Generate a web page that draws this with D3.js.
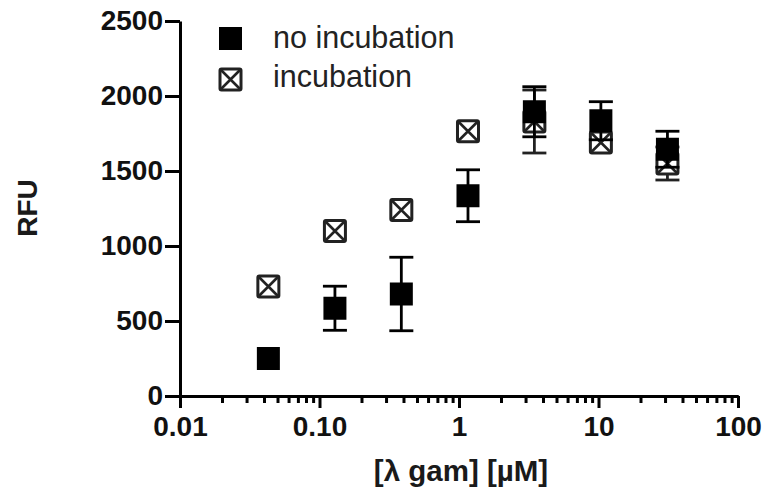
<!DOCTYPE html>
<html>
<head>
<meta charset="utf-8">
<script src="https://cdn.jsdelivr.net/npm/d3@7"></script>
<style>
  body { margin: 0; background: #fff; }
  svg { display: block; font-family: "Liberation Sans", Arial, Helvetica, sans-serif; }
</style>
</head>
<body>
<svg id="chart"></svg>
<script>
const width = 764;
const height = 489;

// concentrations [uM]
const conc = [0.043, 0.129, 0.386, 1.16, 3.47, 10.4, 31.2];
// RFU, no incubation
const noIncMean = [250, 585, 680, 1335, 1895, 1835, 1645];
const noIncErr = [0, 147, 245, 173, 167, 127, 120];
// RFU, incubation
const incMean = [730, 1100, 1240, 1765, 1830, 1690, 1550];
const incErr = [0, 0, 0, 0, 210, 0, 110];

const yTicks = [0, 500, 1000, 1500, 2000, 2500];
const xTicks = [0.01, 0.1, 1, 10, 100];
const xTickLabels = ["0.01", "0.10", "1", "10", "100"];
const seriesNames = ["no incubation", "incubation"];

const svg = d3.select("#chart").attr("width", width).attr("height", height);

const x = d3.scaleLog().domain([0.01, 100]).range([180, 738]);
const y = d3.scaleLinear().domain([0, 2500]).range([396, 21]);

// minor ticks 2..9 of every decade
let minor = [];
for (let d = 0.01; d < 100; d *= 10) {
    for (let k = 2; k <= 9; k++) minor.push(+(d * k).toPrecision(3));
}

// y axis
const gy = svg.append("g")
    .attr("transform", "translate(180,0)")
    .call(d3.axisLeft(y).tickValues(yTicks).tickSize(15).tickSizeOuter(0).tickPadding(2)
        .tickFormat(d3.format("d")));

// x axis minor
const gxm = svg.append("g")
    .attr("transform", "translate(0,396)")
    .call(d3.axisBottom(x).tickValues(minor).tickSize(7).tickSizeOuter(0).tickFormat(""));

// x axis major
const gx = svg.append("g")
    .attr("transform", "translate(0,396)")
    .call(d3.axisBottom(x).tickValues(xTicks).tickSize(12).tickSizeOuter(0).tickPadding(8)
        .tickFormat((d, i) => xTickLabels[i]));

[gy, gx, gxm].forEach(g => {
    g.selectAll("path.domain").attr("stroke", "#000").attr("stroke-width", 3);
    g.selectAll(".tick line").attr("stroke", "#000").attr("stroke-width", 3);
    g.selectAll(".tick text")
        .attr("fill", "#111")
        .style("font-size", "28px")
        .style("font-weight", "bold");
});

// axis titles
svg.append("text")
    .attr("transform", "translate(37,208) rotate(-90)")
    .attr("text-anchor", "middle")
    .attr("fill", "#1a1a1a")
    .style("font-size", "28px")
    .style("font-weight", "bold")
    .text("RFU");

svg.append("text")
    .attr("x", 461)
    .attr("y", 481)
    .attr("text-anchor", "middle")
    .attr("fill", "#1a1a1a")
    .style("font-size", "29.5px")
    .style("font-weight", "bold")
    .text("[λ gam] [µM]");

const capW = 24;

function errorBars(mean, err, color) {
    const g = svg.append("g").attr("stroke", color).attr("stroke-width", 2.8);
    const rows = conc.map((c, i) => ({ c: c, m: mean[i], e: err[i] })).filter(d => d.e > 0);
    g.selectAll(".stem").data(rows).join("line")
        .attr("x1", d => x(d.c)).attr("x2", d => x(d.c))
        .attr("y1", d => y(d.m + d.e)).attr("y2", d => y(d.m - d.e));
    g.selectAll(".capTop").data(rows).join("line")
        .attr("x1", d => x(d.c) - capW / 2).attr("x2", d => x(d.c) + capW / 2)
        .attr("y1", d => y(d.m + d.e)).attr("y2", d => y(d.m + d.e));
    g.selectAll(".capBot").data(rows).join("line")
        .attr("x1", d => x(d.c) - capW / 2).attr("x2", d => x(d.c) + capW / 2)
        .attr("y1", d => y(d.m - d.e)).attr("y2", d => y(d.m - d.e));
}

function crossBox(g, cx, cy) {
    const s = 10.5;
    g.append("rect")
        .attr("x", cx - s).attr("y", cy - s).attr("width", 2 * s).attr("height", 2 * s)
        .attr("rx", 1.5)
        .attr("fill", "#fff").attr("stroke", "#222").attr("stroke-width", 3);
    g.append("path")
        .attr("d", `M${cx - s},${cy - s}L${cx + s},${cy + s}M${cx + s},${cy - s}L${cx - s},${cy + s}`)
        .attr("stroke", "#222").attr("stroke-width", 2.6);
}

function filledBox(g, cx, cy) {
    g.append("rect")
        .attr("x", cx - 11.5).attr("y", cy - 11.5).attr("width", 23).attr("height", 23)
        .attr("fill", "#000");
}

// incubation first, no incubation on top
errorBars(incMean, incErr, "#222");
const incG = svg.append("g");
conc.forEach((c, i) => crossBox(incG, x(c), y(incMean[i])));

errorBars(noIncMean, noIncErr, "#000");
const noG = svg.append("g");
conc.forEach((c, i) => filledBox(noG, x(c), y(noIncMean[i])));

// legend
const leg = svg.append("g");
filledBox(leg, 230.5, 38.5);
crossBox(leg, 230.5, 79.5);
leg.selectAll("text").data(seriesNames).join("text")
    .attr("x", 273)
    .attr("y", (d, i) => 48 + i * 39)
    .attr("fill", "#222")
    .style("font-size", "30.5px")
    .text(d => d);
</script>
</body>
</html>
